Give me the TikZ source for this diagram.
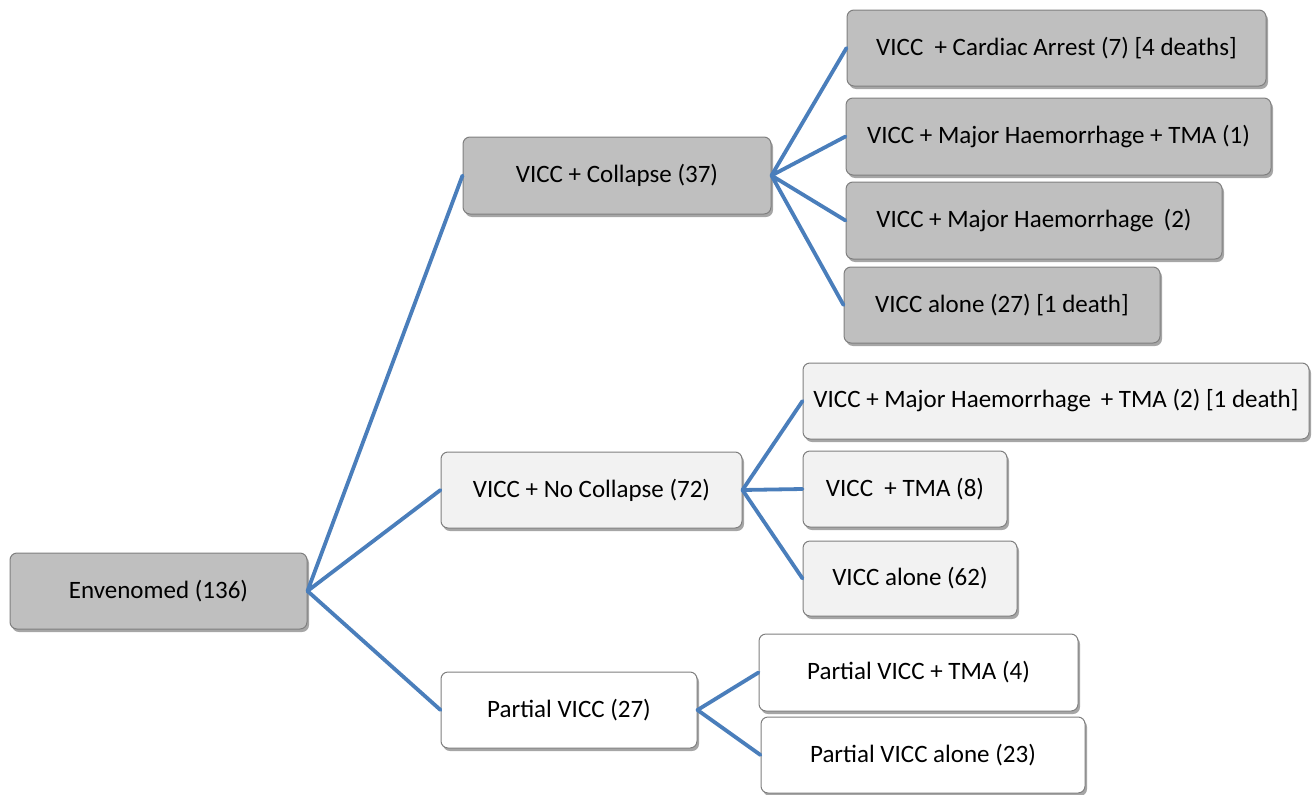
\documentclass[tikz,border=0pt]{standalone}
\usepackage{fontspec}
\setmainfont{Carlito}
\usetikzlibrary{shadows}
\definecolor{dgray}{HTML}{BFBFBF}
\definecolor{lgray}{HTML}{F2F2F2}
\definecolor{bord}{HTML}{7F7F7F}
\definecolor{link}{HTML}{4A7EBB}
\tikzset{
  box/.style={draw=bord, line width=1pt, rounded corners=7pt, inner sep=0pt,
    font=\fontsize{25}{29}\selectfont, align=center,
    drop shadow={shadow xshift=2pt, shadow yshift=-3pt, opacity=0.35, fill=black}},
  darkbox/.style={box, fill=dgray},
  lightbox/.style={box, fill=lgray},
  whitebox/.style={box, fill=white},
  link/.style={draw=link, line width=3.8pt, line join=round, line cap=round}
}
\begin{document}
\begin{tikzpicture}[x=1pt,y=-1pt]
\useasboundingbox (0,0) rectangle (1312,795);
\node[darkbox, minimum width=297pt, minimum height=76pt] (env) at (158.5,591) {Envenomed (136)};
\node[darkbox, minimum width=308pt, minimum height=77pt] (col) at (617,175.5) {VICC + Collapse (37)};
\node[lightbox, minimum width=301pt, minimum height=76pt] (nocol) at (591.5,490) {VICC + No Collapse (72)};
\node[whitebox, minimum width=256pt, minimum height=76pt] (part) at (569,710) {Partial VICC (27)};
\node[darkbox, minimum width=419pt, minimum height=76pt] (c1) at (1056.5,48) {VICC \ + Cardiac Arrest (7) [4 deaths]};
\node[darkbox, minimum width=425pt, minimum height=77pt] (c2) at (1058.5,136.5) {VICC + Major Haemorrhage + TMA (1)};
\node[darkbox, minimum width=376pt, minimum height=77pt] (c3) at (1034,220.5) {VICC + Major Haemorrhage \,(2)};
\node[darkbox, minimum width=316pt, minimum height=76pt] (c4) at (1002,305) {VICC alone (27) [1 death]};
\node[lightbox, minimum width=506pt, minimum height=76pt] (n1) at (1056,401) {VICC + Major Haemorrhage \,+ TMA (2) [1 death]};
\node[lightbox, minimum width=204pt, minimum height=76pt] (n2) at (905,489) {VICC \ + TMA (8)};
\node[lightbox, minimum width=214pt, minimum height=75pt] (n3) at (910,578.5) {VICC alone (62)};
\node[whitebox, minimum width=319pt, minimum height=77pt] (p1) at (918.5,672.5) {Partial VICC + TMA (4)};
\node[whitebox, minimum width=324pt, minimum height=76pt] (p2) at (923,755) {Partial VICC alone (23)};
\draw[link] (col.west) -- (env.east) -- (nocol.west);
\draw[link] (env.east) -- (part.west);
\draw[link] (c1.west) -- (col.east) -- (c2.west);
\draw[link] (c3.west) -- (col.east) -- (c4.west);
\draw[link] (n1.west) -- (nocol.east) -- (n2.west);
\draw[link] (nocol.east) -- (n3.west);
\draw[link] (p1.west) -- (part.east) -- (p2.west);
\end{tikzpicture}
\end{document}
